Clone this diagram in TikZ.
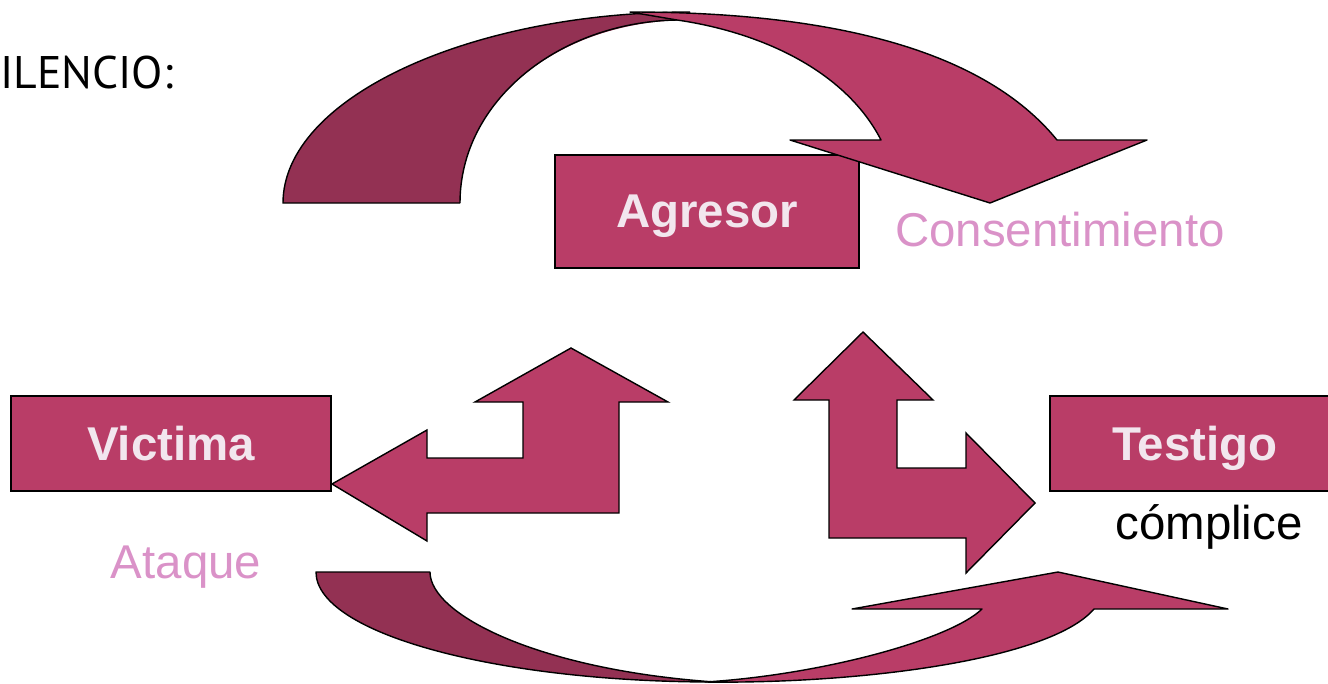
\documentclass[tikz,border=0pt]{standalone}
\usepackage{fontspec}
\setmainfont{Liberation Sans}
\newfontfamily\silfont{PT Sans}
\definecolor{darkband}{RGB}{147,49,83}
\definecolor{boxfill}{RGB}{185,61,103}
\definecolor{boxtext}{RGB}{242,230,238}
\definecolor{labelpink}{RGB}{218,146,200}
\begin{document}
\begin{tikzpicture}[x=0.02cm,y=-0.02cm,
  rolebox/.style={draw=black,line width=1.1pt,fill=boxfill,text=boxtext,inner sep=0pt,text depth=0pt,font=\fontsize{27}{30}\selectfont\bfseries},
  pinklabel/.style={text=labelpink,inner sep=0pt,font=\fontsize{27}{30}\selectfont},
  band/.style={draw=black,line width=0.8pt}]
\useasboundingbox (0,0) rectangle (1328,683);

\node[anchor=base west,inner sep=0pt,font=\silfont\fontsize{26}{30}\selectfont] (silencio) at (0,88) {ILENCIO:};

\node[rolebox,minimum width=6.08cm,minimum height=2.26cm] (agresor) at (707,211.5) {Agresor};
\node[rolebox,minimum width=6.4cm,minimum height=1.9cm] (victima) at (171,443.5) {Victima};
\node[rolebox,minimum width=5.8cm,minimum height=1.9cm] (testigo) at (1195,443.5) {Testigo};

\node[pinklabel] (consent) at (1060,230) {Consentimiento};
\node[pinklabel] (ataque) at (186,567) {Ataque};
\node[inner sep=0pt,font=\fontsize{27}{30}\selectfont] (complice) at (1209,527) {cómplice};

\fill[darkband] (283,203) .. controls (283,98) and (470,12) .. (690,12) -- (690,20) .. controls (559,20) and (460,101) .. (460,203) -- cycle;
\draw[band] (460,203) -- (283,203) .. controls (283,98) and (470,12) .. (690,12);
\draw[band] (677,20) .. controls (559,22) and (460,101) .. (460,203);
\draw[band,line join=round,fill=boxfill] (630,12) .. controls (880,12) and (1000,70) .. (1057,140) -- (1147,140) -- (990,203) -- (790,140) -- (881,140) .. controls (845,70) and (760,32) .. (677,20) -- (630,12) -- cycle;

\draw[band,line join=round,fill=darkband] (316,572) .. controls (316,633) and (495,682) .. (715,682) .. controls (540,670) and (430,615) .. (430,572) -- cycle;
\draw[band,line join=round,fill=boxfill] (705,682) .. controls (860,684) and (1050,660) .. (1094,609) -- (1228,609) -- (1058,572) -- (852,609) -- (982,609) .. controls (950,640) and (820,675) .. (705,682) -- cycle;

\draw[band,fill=boxfill] (332,484) -- (427,430) -- (427,458) -- (523,458) -- (523,402) -- (475,402) -- (571,348) -- (668,402) -- (619,402) -- (619,513) -- (427,513) -- (427,541) -- cycle;
\draw[band,fill=boxfill] (863,332) -- (933,400) -- (897,400) -- (897,468) -- (966,468) -- (966,433) -- (1035,503) -- (966,573) -- (966,538) -- (829,538) -- (829,400) -- (794,400) -- cycle;
\end{tikzpicture}
\end{document}
